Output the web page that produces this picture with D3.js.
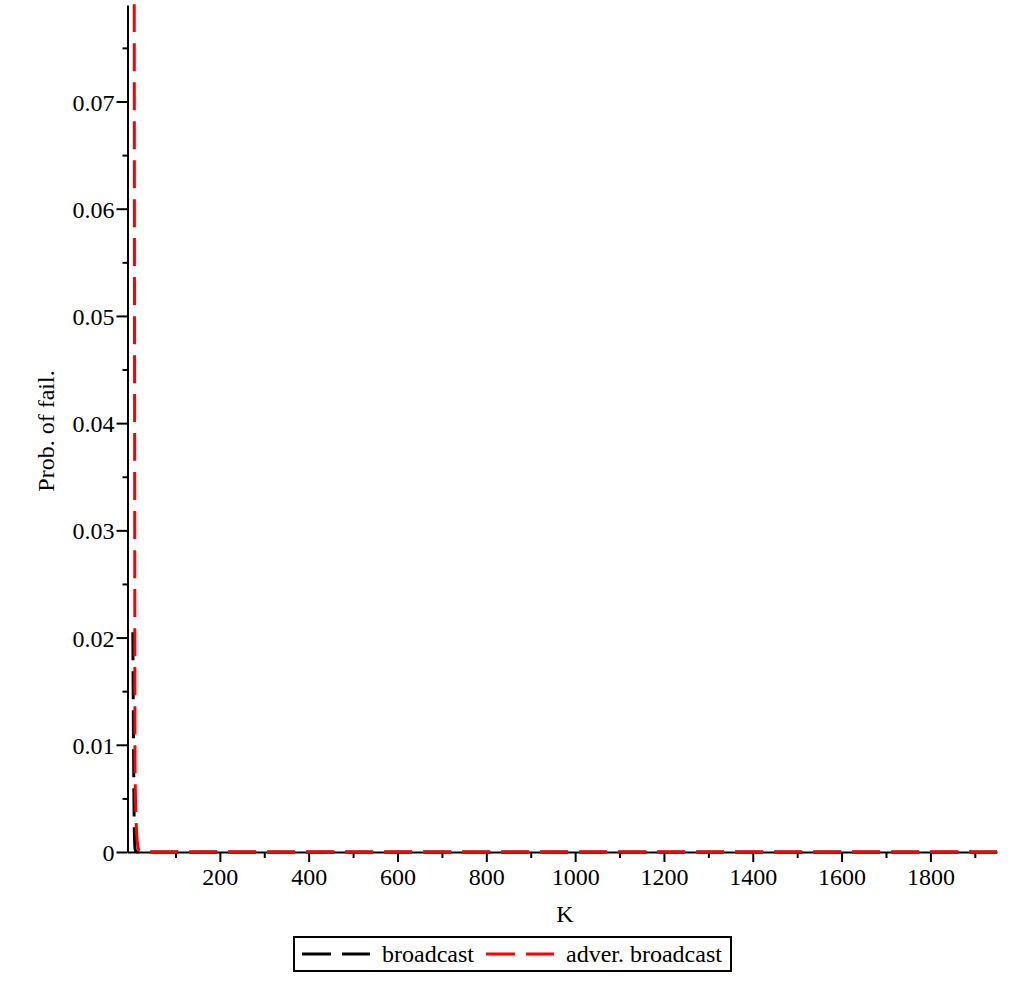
<!DOCTYPE html>
<html lang="en">
  <head>
    <meta charset="UTF-8" />
    <title>Prob. of fail.</title>
    <style>
      body { margin: 0; background: #fff; }
      text { font-family: "Liberation Serif", "Times New Roman", serif; }
    </style>
  </head>
  <body>
    <svg id="chart" width="1020" height="984"></svg>
    <script src="https://cdn.jsdelivr.net/npm/d3@7"></script>
    <script>
      // values
      const kBroadcast = [4, 5, 6, 7, 8, 9, 11, 15, 1950];
      const pBroadcast = [0.0205, 0.0135, 0.0075, 0.003, 0.001, 0.0003, 0.00003, 0, 0];
      const kAdver = [7, 8, 9, 11, 13, 15, 18, 23, 30, 1950];
      const pAdver = [0.09, 0.04, 0.008, 0.0035, 0.0015, 0.0006, 0.00015, 0.00002, 0, 0];
      const xTicks = [200, 400, 600, 800, 1000, 1200, 1400, 1600, 1800];
      const xMinor = [100, 300, 500, 700, 900, 1100, 1300, 1500, 1700, 1900];
      const yTicks = [0, 0.01, 0.02, 0.03, 0.04, 0.05, 0.06, 0.07];
      const yMinor = [0.005, 0.015, 0.025, 0.035, 0.045, 0.055, 0.065, 0.075];

      const svg = d3.select("#chart");
      const x = d3.scaleLinear().domain([-8, 1950]).range([127.5, 997]);
      const y = d3.scaleLinear().domain([0, 0.079]).range([852, 5]);

      // minor ticks first, majors on top
      svg.append("g")
        .attr("transform", "translate(0,852)")
        .call(d3.axisBottom(x).tickValues(xMinor).tickSize(6).tickFormat(""))
        .call(g => g.select(".domain").remove());
      svg.append("g")
        .attr("transform", "translate(127.5,0)")
        .call(d3.axisLeft(y).tickValues(yMinor).tickSize(5).tickFormat(""))
        .call(g => g.select(".domain").remove());

      const xAxis = svg.append("g")
        .attr("transform", "translate(0,852)")
        .call(d3.axisBottom(x).tickValues(xTicks).tickSize(10).tickSizeOuter(0).tickPadding(6)
          .tickFormat(d3.format("d")));
      const yAxis = svg.append("g")
        .attr("transform", "translate(127.5,0)")
        .call(d3.axisLeft(y).tickValues(yTicks).tickSize(11).tickSizeOuter(0).tickPadding(2)
          .tickFormat(d => d === 0 ? "0" : d3.format(".2f")(d)));

      [xAxis, yAxis].forEach(g => {
        g.attr("font-family", "Liberation Serif");
        g.selectAll("text").attr("font-size", 24).attr("fill", "#000");
        g.select(".domain").attr("stroke-width", 2);
      });
      yAxis.selectAll("text").attr("dy", "0.36em");
      svg.selectAll("g line").attr("stroke-width", 2);

      svg.append("defs").append("clipPath").attr("id", "clip")
        .append("rect").attr("x", 127.5).attr("y", 0).attr("width", 880).attr("height", 862);

      const line = d3.line().x(d => x(d[0])).y(d => y(d[1])).curve(d3.curveMonotoneX);
      const plot = svg.append("g").attr("clip-path", "url(#clip)");
      plot.append("path")
        .datum(d3.zip(kBroadcast, pBroadcast))
        .attr("d", line)
        .attr("fill", "none").attr("stroke", "#000").attr("stroke-width", 3)
        .attr("stroke-dasharray", "28,11");
      plot.append("path")
        .datum(d3.zip(kAdver, pAdver))
        .attr("d", line)
        .attr("fill", "none").attr("stroke", "#ff0000").attr("stroke-width", 3)
        .attr("stroke-dasharray", "28,11");

      // axis titles
      svg.append("text").attr("x", 565).attr("y", 922).attr("text-anchor", "middle")
        .attr("font-size", 24).text("K");
      svg.append("text").attr("transform", "translate(54,431) rotate(-90)")
        .attr("text-anchor", "middle").attr("font-size", 24).text("Prob. of fail.");

      // legend
      const legend = svg.append("g");
      legend.append("rect").attr("x", 294).attr("y", 937).attr("width", 437).attr("height", 34)
        .attr("fill", "none").attr("stroke", "#000").attr("stroke-width", 2);
      const items = [
        { label: "broadcast", color: "#000", x0: 302, tx: 382 },
        { label: "adver. broadcast", color: "#ff0000", x0: 486, tx: 566 }
      ];
      items.forEach(it => {
        legend.append("line").attr("x1", it.x0).attr("x2", it.x0 + 68).attr("y1", 954).attr("y2", 954)
          .attr("stroke", it.color).attr("stroke-width", 3).attr("stroke-dasharray", "29,11");
        legend.append("text").attr("x", it.tx).attr("y", 962).attr("font-size", 24).text(it.label);
      });
    </script>
  </body>
</html>
